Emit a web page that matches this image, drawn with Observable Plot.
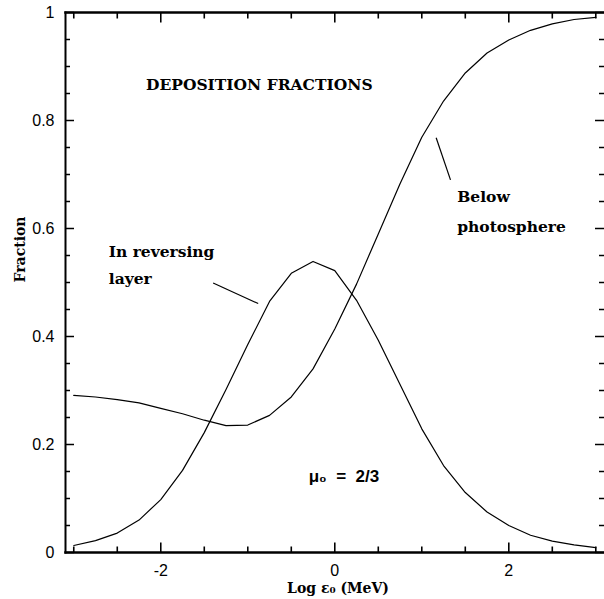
<!DOCTYPE html>
<html>
<head>
<meta charset="utf-8">
<script src="https://cdn.jsdelivr.net/npm/d3@7"></script>
<script src="https://cdn.jsdelivr.net/npm/@observablehq/plot@0.6"></script>
<style>
  html, body { margin: 0; padding: 0; background: #fff; overflow: hidden; }
</style>
</head>
<body>
<div id="chart"></div>
<script>
// Log epsilon_0 (MeV) sample points
const logE = [-3, -2.75, -2.5, -2.25, -2, -1.75, -1.5, -1.25, -1, -0.75, -0.5, -0.25, 0,
              0.25, 0.5, 0.75, 1, 1.25, 1.5, 1.75, 2, 2.25, 2.5, 2.75, 3];
// Fraction deposited in reversing layer
const reversing = [0.013, 0.022, 0.036, 0.060, 0.098, 0.152, 0.222, 0.302, 0.385, 0.465, 0.517, 0.539, 0.522,
                   0.467, 0.393, 0.311, 0.229, 0.161, 0.111, 0.075, 0.050, 0.032, 0.021, 0.014, 0.009];
// Fraction deposited below photosphere
const below = [0.291, 0.288, 0.283, 0.277, 0.267, 0.257, 0.245, 0.235, 0.236, 0.254, 0.288, 0.340, 0.414,
               0.497, 0.590, 0.683, 0.769, 0.836, 0.888, 0.925, 0.949, 0.967, 0.979, 0.987, 0.991];

const xMajorTicks = [-2, 0, 2];
const xMinorTicks = [-3, -2.5, -1.5, -1, -0.5, 0.5, 1, 1.5, 2.5, 3];
const yMajorTicks = [0, 0.2, 0.4, 0.6, 0.8, 1];
const yMinorTicks = [0.05, 0.1, 0.15, 0.25, 0.3, 0.35, 0.45, 0.5, 0.55, 0.65, 0.7, 0.75, 0.85, 0.9, 0.95];

const title = "DEPOSITION FRACTIONS";
const xLabel = "Log ε₀ (MeV)";
const yLabel = "Fraction";

// annotation texts (data-space anchors)
const annoText = ["In reversing", "layer", "Below", "photosphere"];
const annoX = [-2.598, -2.598, 1.407, 1.407];
const annoY = [0.548, 0.498, 0.649, 0.593];
const muText = "μ₀\u00a0\u00a0=\u00a0\u00a02/3";
const muX = -0.30, muY = 0.130;
const titleX = -2.17, titleY = 0.857;

// leader lines
const leaders = [
  {x1: -1.398, y1: 0.499, x2: -0.880, y2: 0.461},
  {x1: 1.165, y1: 0.768, x2: 1.330, y2: 0.690}
];

const revData = logE.map((x, i) => ({x, y: reversing[i]}));
const belData = logE.map((x, i) => ({x, y: below[i]}));
const annoData = annoText.map((t, i) => ({t, x: annoX[i], y: annoY[i]}));

const serif = "DejaVu Serif";
const sans = "Liberation Sans";
const fmt = d => String(d);

const W = 604, H = 599, ML = 65, MR = 0, MT = 12, MB = 47;
const plotW = W - ML - MR, plotH = H - MT - MB;
const yDomain = [0, 1];

// inward-pointing ticks on all four sides
const tickMarks = [];
for (const [ticks, len] of [[xMajorTicks, 10], [xMinorTicks, 6]]) {
  const f = len / plotH * (yDomain[1] - yDomain[0]);
  const bottomTicks = ticks.map(v => ({v, a: yDomain[0], b: yDomain[0] + f}));
  const topTicks = ticks.map(v => ({v, a: yDomain[1] - f, b: yDomain[1]}));
  for (const t of [bottomTicks, topTicks]) {
    tickMarks.push(Plot.link(t, {x1: "v", x2: "v", y1: "a", y2: "b", stroke: "#000", strokeWidth: 1.6}));
  }
}
for (const [ticks, len] of [[yMajorTicks, 9], [yMinorTicks, 5]]) {
  tickMarks.push(Plot.ruleY(ticks, {y: d => d, insetRight: plotW - len, stroke: "#000", strokeWidth: 1.5}));
  tickMarks.push(Plot.ruleY(ticks, {y: d => d, insetLeft: plotW - len, stroke: "#000", strokeWidth: 1.5}));
}

const chart = Plot.plot({
  width: W,
  height: H,
  marginLeft: ML,
  marginRight: MR,
  marginTop: MT,
  marginBottom: MB,
  style: {fontFamily: sans, background: "#fff", color: "#000"},
  x: {domain: [-3.095, 3.1]},
  y: {domain: yDomain},
  marks: [
    ...tickMarks,
    Plot.axisX({anchor: "bottom", ticks: xMajorTicks, tickSize: 0, tickPadding: 12, tickFormat: fmt, fontSize: 16, label: null}),
    Plot.axisY({anchor: "left", ticks: yMajorTicks, tickSize: 0, tickPadding: 11, tickFormat: fmt, fontSize: 16, label: null}),
    Plot.frame({anchor: "left", strokeWidth: 2}),
    Plot.frame({anchor: "top", strokeWidth: 2.5}),
    Plot.frame({anchor: "bottom", strokeWidth: 2.5}),
    Plot.line(revData, {x: "x", y: "y", stroke: "#000", strokeWidth: 1.2}),
    Plot.line(belData, {x: "x", y: "y", stroke: "#000", strokeWidth: 1.2}),
    Plot.link(leaders, {x1: "x1", y1: "y1", x2: "x2", y2: "y2", stroke: "#000", strokeWidth: 1.2}),
    Plot.text([title], {x: titleX, y: titleY, text: d => d, textAnchor: "start", lineAnchor: "bottom",
      fontFamily: serif, fontWeight: "bold", fontSize: 15.5, fill: "#000"}),
    Plot.text(annoData, {x: "x", y: "y", text: "t", textAnchor: "start", lineAnchor: "bottom",
      fontFamily: serif, fontWeight: "bold", fontSize: 15.5, fill: "#000"}),
    Plot.text([muText], {x: muX, y: muY, text: d => d, textAnchor: "start", lineAnchor: "bottom",
      fontFamily: sans, fontWeight: "bold", fontSize: 17, fill: "#000"}),
    Plot.text([xLabel], {frameAnchor: "bottom", text: d => d, dy: 40, dx: 3, lineAnchor: "bottom",
      fontFamily: serif, fontWeight: "bold", fontSize: 14, fill: "#000"}),
    Plot.text([yLabel], {frameAnchor: "left", text: d => d, dx: -45, rotate: -90, lineAnchor: "middle",
      fontFamily: serif, fontWeight: "bold", fontSize: 14, fill: "#000"})
  ]
});
document.getElementById("chart").appendChild(chart);
</script>
</body>
</html>
